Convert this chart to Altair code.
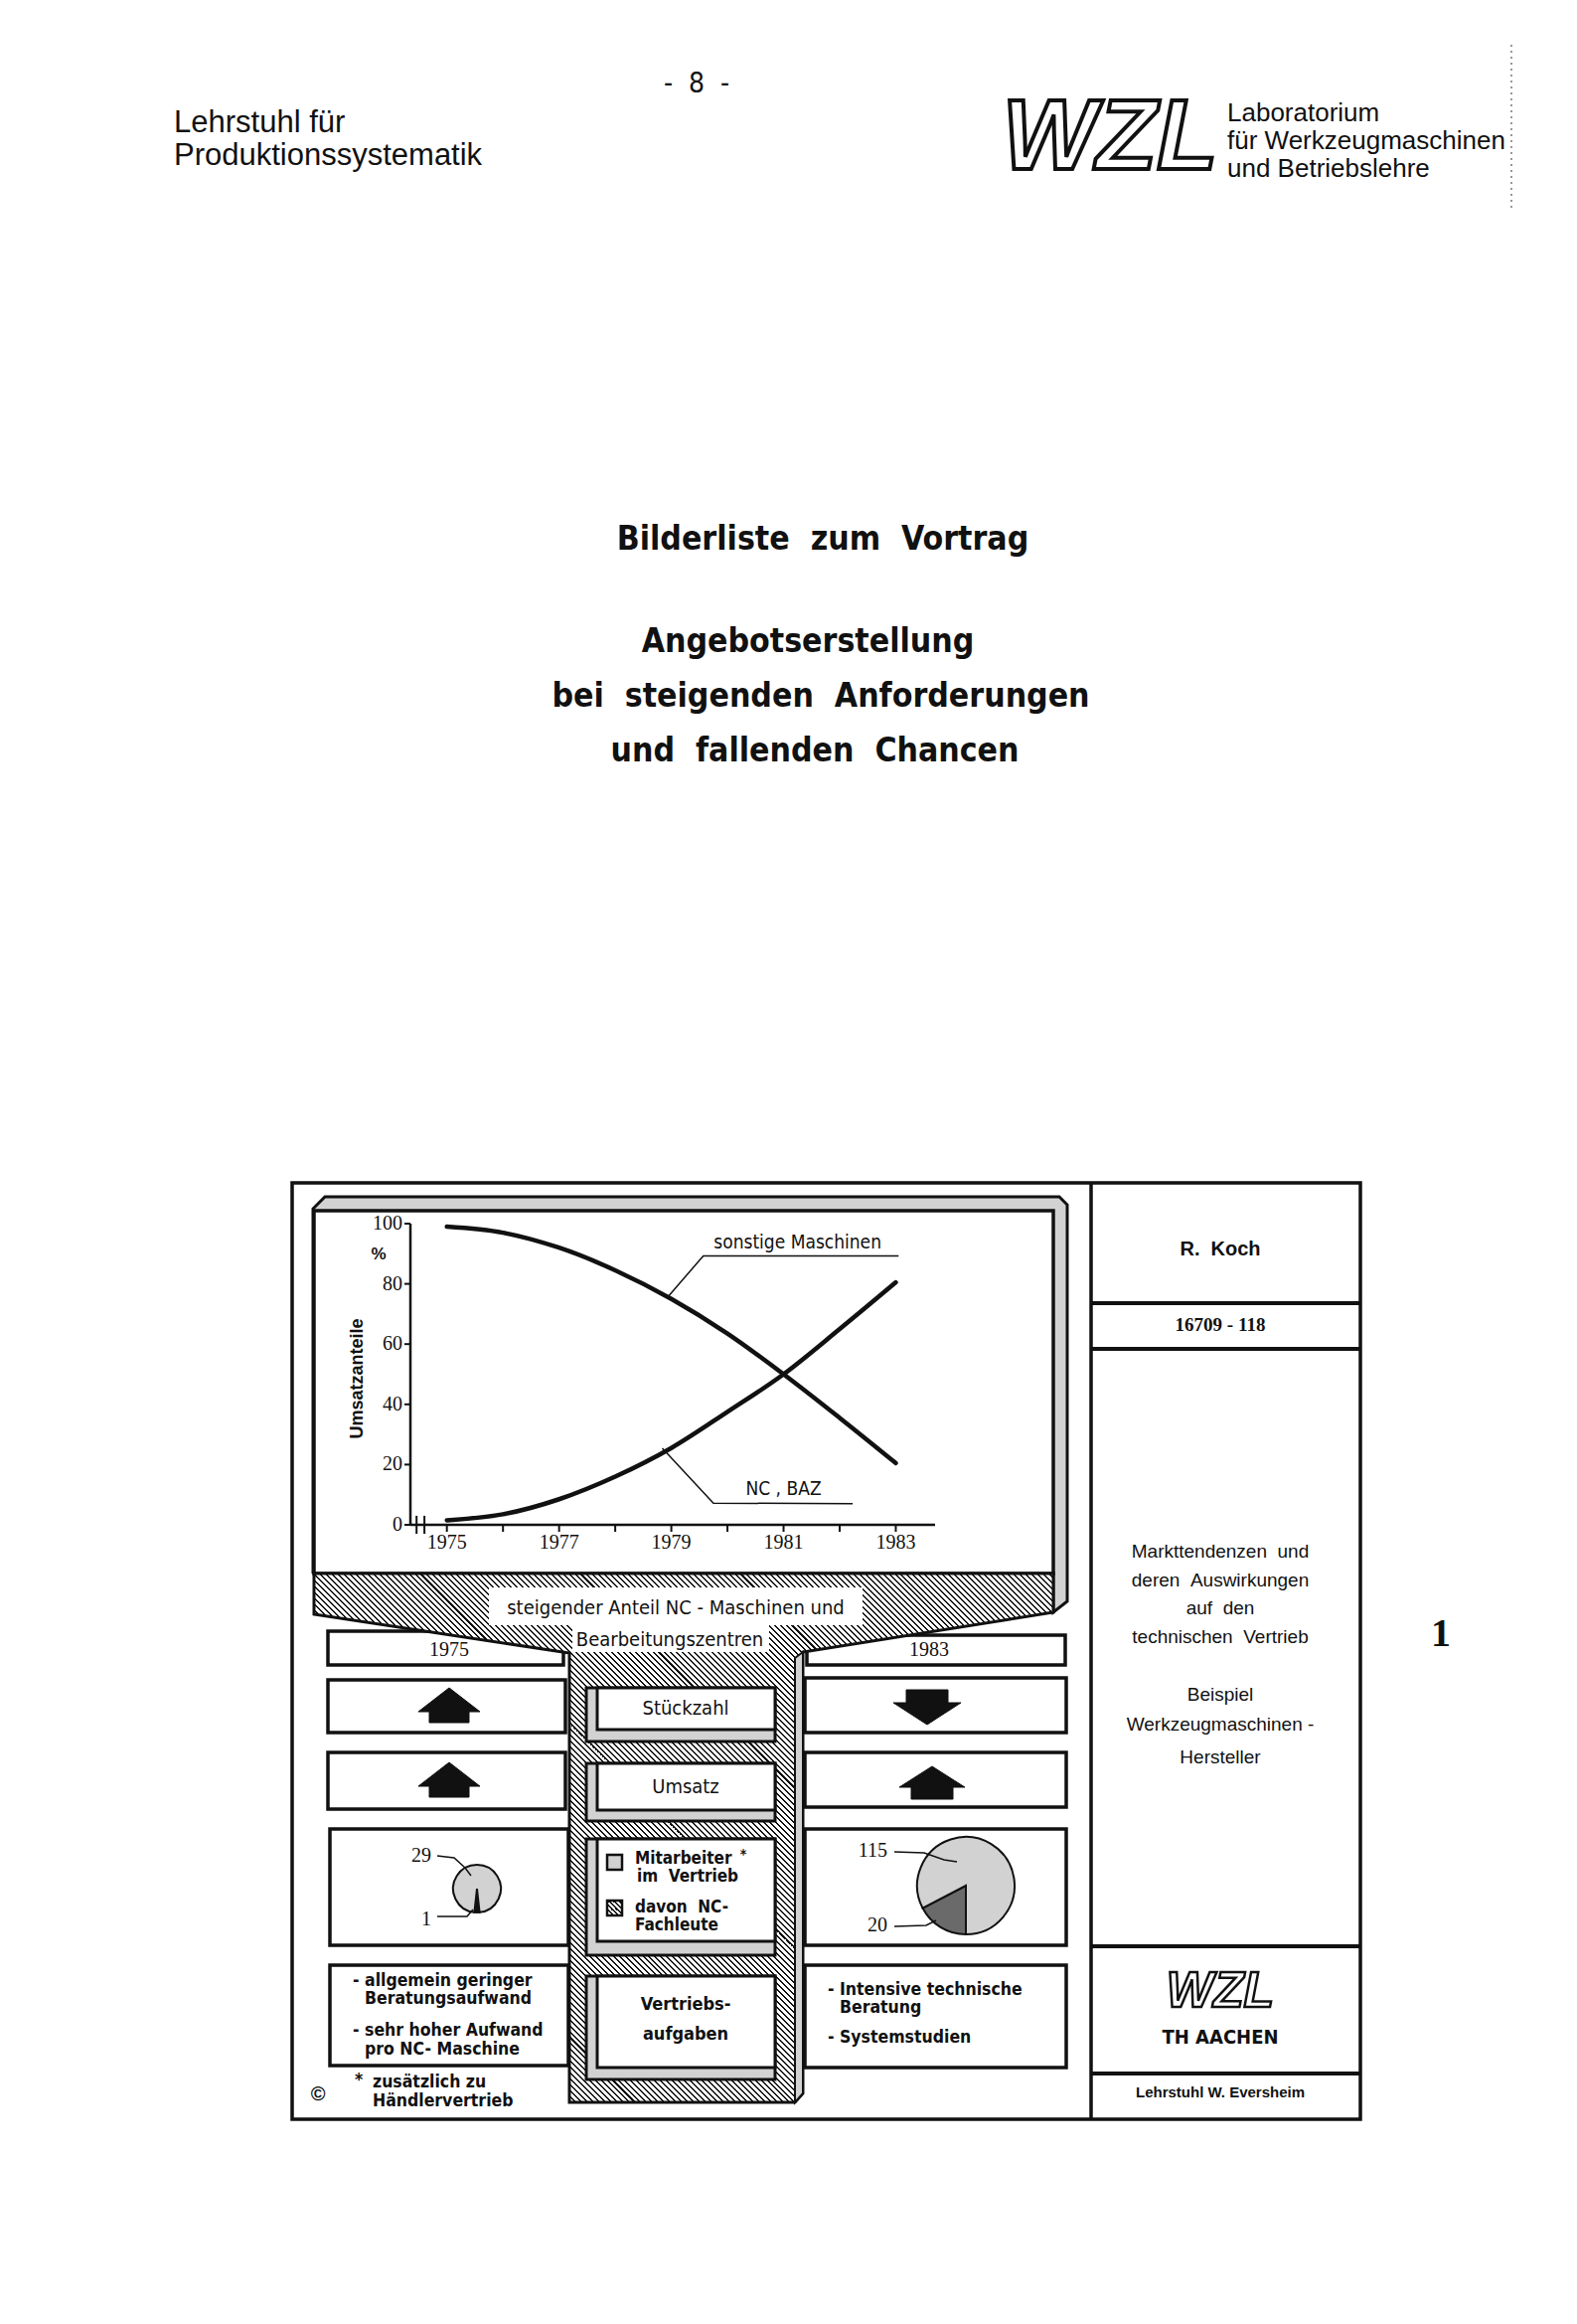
import math
import altair as alt
import pandas as pd

# ------------------------------------------------------------------ data
YEARS = [1975, 1976, 1977, 1978, 1979, 1980, 1981, 1982, 1983]
NC_BAZ = [1.5, 3.5, 8.5, 16, 25.5, 37.5, 50, 65, 80.5]
SONSTIGE = [99, 97, 92, 84.5, 75, 63.5, 50, 35.5, 20.5]
Y_TICKS = [0, 20, 40, 60, 80, 100]
X_TICKS = YEARS
X_LABELS = [1975, 1977, 1979, 1981, 1983]
SERIES_NAMES = ["NC , BAZ", "sonstige Maschinen"]
# leader lines of the two curve labels (year, percent)
SONST_LEADER_YEAR = [1978.93, 1979.57, 1983.05]
SONST_LEADER_PCT = [75.5, 89.3, 89.3]
NC_LEADER_YEAR = [1978.84, 1979.75, 1982.23]
NC_LEADER_PCT = [25.4, 7.2, 7.0]
SONST_LABEL_AT = (1981.25, 93.8)
NC_LABEL_AT = (1981.0, 11.8)

# pies: NC-Fachleute first, rest of the Vertrieb staff second
PIE_1975 = [1, 28]      # 29 Mitarbeiter, 1 NC-Fachmann
PIE_1983 = [20, 95]     # 115 Mitarbeiter, 20 NC-Fachleute
PIE_1975_LABELS = ["29", "1"]
PIE_1983_LABELS = ["115", "20"]

# ------------------------------------------------------------------ page geometry
W, H = 1571, 2318
OFF = 8
SANS = "Liberation Sans, Arial, sans-serif"
NARROW = "Liberation Sans Narrow, DejaVu Sans Condensed, Roboto Condensed, Liberation Sans, sans-serif"
SERIF = "Liberation Serif, DejaVu Serif, serif"
STIPPLE = "#d2d2d2"
INK = "#111111"
NB = "\u00a0"


def sp(s):
    """keep the wide double spaces of the typewritten original"""
    return s.replace("  ", NB + NB)


def sx():
    return alt.Scale(domain=[OFF, OFF + W], range=[0, W], nice=False, zero=False)


def sy():
    return alt.Scale(domain=[OFF, OFF + H], range=[0, H], nice=False, zero=False)


def X(f="x"):
    return alt.X(f + ":Q", scale=sx(), axis=None)


def Y(f="y"):
    return alt.Y(f + ":Q", scale=sy(), axis=None)


def hatch(w, h, period=4.2, duty=0.34, dark=INK, light="white"):
    r = h / w
    s = (1 + r) / (1 + r * r)
    L = (w + h) / math.sqrt(2)
    n = max(1, int(L / period))
    stops = []
    for i in range(n):
        a, b, c = i / n, (i + duty) / n, (i + 1) / n
        stops += [
            {"offset": a, "color": dark},
            {"offset": b, "color": dark},
            {"offset": b, "color": light},
            {"offset": c, "color": light},
        ]
    return {"gradient": "linear", "x1": 0, "y1": 1, "x2": s, "y2": 1 - s * r, "stops": stops}


def rects(rows, fill="white", stroke=INK, sw=3.0, opacity=1.0):
    df = pd.DataFrame(rows, columns=["x", "y", "x2", "y2"])
    kw = dict(fill=fill, strokeWidth=sw, fillOpacity=opacity)
    if sw > 0:
        kw["stroke"] = stroke
    return alt.Chart(df).mark_rect(**kw).encode(x=X(), x2="x2:Q", y=Y(), y2="y2:Q")


def rules(rows, sw=3.0, color=INK, dash=None):
    df = pd.DataFrame(rows, columns=["x", "y", "x2", "y2"])
    kw = dict(color=color, strokeWidth=sw)
    if dash:
        kw["strokeDash"] = dash
    return alt.Chart(df).mark_rule(**kw).encode(x=X(), x2="x2:Q", y=Y(), y2="y2:Q")


def polys(poly_list, fill, stroke=INK, sw=3.0, closed=True):
    rows = []
    for pid, pts in enumerate(poly_list):
        pts = list(pts) + ([pts[0]] if closed else [])
        for i, (x, y) in enumerate(pts):
            rows.append({"pid": pid, "i": i, "x": x, "y": y})
    kw = dict(stroke=stroke, strokeWidth=sw, strokeJoin="miter")
    if fill is not None:
        kw["fill"] = fill
    return alt.Chart(pd.DataFrame(rows)).mark_line(**kw).encode(
        x=X(), y=Y(), order="i:Q", detail="pid:N"
    )


def texts(rows, size, font=NARROW, weight="normal", align="center", style="normal",
          angle=None, fill=INK, stroke=None, sw=None):
    df = pd.DataFrame([(sp(t), x, y) for t, x, y in rows], columns=["t", "x", "y"])
    kw = dict(fontSize=size, font=font, fontWeight=weight, align=align, baseline="middle",
              fontStyle=style, fill=fill)
    if angle is not None:
        kw["angle"] = angle
    if stroke:
        kw["stroke"] = stroke
        kw["strokeWidth"] = sw
    return alt.Chart(df).mark_text(**kw).encode(x=X(), y=Y(), text="t:N")


def up_arrow(cx, top, head, bottom, hw=31, sw_=20):
    return [(cx, top), (cx + hw, head), (cx + sw_, head), (cx + sw_, bottom),
            (cx - sw_, bottom), (cx - sw_, head), (cx - hw, head)]


def down_arrow(cx, top, head, tip, hw=34, sw_=21):
    return [(cx - sw_, top), (cx + sw_, top), (cx + sw_, head), (cx + hw, head),
            (cx, tip), (cx - hw, head), (cx - sw_, head)]


layers = []

# ------------------------------------------------------------------ page header
layers.append(texts([("-  8  -", 701, 85)], 28, font=NARROW))
layers.append(texts([("Lehrstuhl für", 175, 124), ("Produktionssystematik", 175, 157)],
                    31, font=SANS, align="left"))
layers.append(texts([("Laboratorium", 1235, 114), ("für Werkzeugmaschinen", 1235, 142),
                     ("und Betriebslehre", 1235, 170)], 26, font=SANS, align="left"))
layers.append(texts([("WZL", 1117, 140)], 100, font=SANS, weight="bold", style="italic",
                    fill="white", stroke=INK, sw=4))
layers.append(rules([(1521, 45, 1521, 209)], sw=1.5, color="#777", dash=[2, 4]))

# ------------------------------------------------------------------ title
layers.append(texts([("Bilderliste  zum  Vortrag", 828, 543)], 33.5, weight="bold"))
layers.append(texts([("Angebotserstellung", 813, 646),
                     ("bei  steigenden  Anforderungen", 826, 701),
                     ("und  fallenden  Chancen", 820, 756)], 33.5, weight="bold"))

# ------------------------------------------------------------------ figure frame
layers.append(rects([(294, 1190, 1369, 2132)], fill="white", sw=3.5))
layers.append(rules([(1098, 1190, 1098, 2132)], sw=3.5))
layers.append(rules([(1098, 1311, 1369, 1311), (1098, 1357, 1369, 1357),
                     (1098, 1958, 1369, 1958), (1098, 2086, 1369, 2086)], sw=4))

# side boxes (left = 1975, right = 1983)
layers.append(rects([
    (330, 1641, 567, 1675), (330, 1690, 569, 1743), (330, 1763, 569, 1820),
    (332, 1840, 572, 1957), (332, 1977, 572, 2078),
    (812, 1645, 1072, 1675), (810, 1688, 1073, 1743), (810, 1763, 1073, 1818),
    (810, 1840, 1073, 1957), (810, 1977, 1073, 2080)], fill="white", sw=3.5))

layers.append(polys([up_arrow(452, 1698, 1722, 1733), up_arrow(452, 1773, 1797, 1808),
                     down_arrow(933, 1700, 1713, 1735), up_arrow(938, 1777, 1798, 1810, hw=33, sw_=21)],
                    fill=INK, sw=1))

# screen
layers.append(polys([[(315, 1583), (315, 1216), (327, 1204), (1066, 1204), (1074, 1212),
                      (1074, 1611), (1060, 1622), (1060, 1583)]], fill=STIPPLE, sw=3))
layers.append(rects([(316, 1218, 1060, 1583)], fill="white", sw=3.5))

# funnel + column (hatched)
FUNNEL = [(316, 1583), (1060, 1583), (1060, 1622), (808, 1662), (808, 2106), (800, 2115),
          (573, 2115), (573, 1663), (316, 1624)]
fx = [p[0] for p in FUNNEL]
fy = [p[1] for p in FUNNEL]
layers.append(polys([FUNNEL], fill=hatch(max(fx) - min(fx), max(fy) - min(fy)), sw=3))
layers.append(polys([[(800, 1668), (808, 1662), (808, 2106), (800, 2115)]], fill=STIPPLE, sw=2))
layers.append(rects([(492, 1597, 868, 1635), (576, 1633, 774, 1662)], fill="white", sw=0))

# column boxes with bevel
BOXES = [(1698, 1740, 1752), (1774, 1821, 1832), (1850, 1953, 1967), (1988, 2080, 2092)]
layers.append(rects([(590, t, 780, b) for t, _, b in BOXES], fill=STIPPLE, sw=3))
layers.append(rects([(601, t, 780, m) for t, m, _ in BOXES], fill="white", sw=3))

# legend squares
layers.append(rects([(611, 1866, 626, 1881)], fill=STIPPLE, sw=2.5))
layers.append(rects([(611, 1912, 626, 1927)], fill=hatch(15, 15, period=3.2, duty=0.45), sw=2.5))


# pies
def pie(values, cx, cy, r, start_deg, colors):
    df = pd.DataFrame({"v": values, "k": list(range(len(values))), "c": colors})
    a0 = math.radians(start_deg)
    return alt.Chart(df).mark_arc(radius=r, stroke=INK, strokeWidth=2).encode(
        theta=alt.Theta("v:Q", stack=True,
                        scale=alt.Scale(domain=[0, sum(values)], range=[a0, a0 + 2 * math.pi])),
        order=alt.Order("k:Q"),
        fill=alt.Fill("c:N", scale=None),
        x=alt.value(cx - OFF), y=alt.value(cy - OFF),
    )


layers.append(pie(PIE_1975, 480, 1900, 24, 173.8, [INK, STIPPLE]))
layers.append(pie(PIE_1983, 972, 1897, 49, 180, ["#6a6a6a", STIPPLE]))
layers.append(polys([[(440, 1867), (457, 1869), (468, 1879), (474, 1887)],
                     [(440, 1928), (470, 1928), (476, 1921)],
                     [(900, 1863), (930, 1864), (950, 1871), (963, 1873)],
                     [(900, 1938), (932, 1937), (942, 1932)]],
                    fill=None, sw=1.5, closed=False))
layers.append(texts([(PIE_1975_LABELS[0], 434, 1867), (PIE_1975_LABELS[1], 434, 1931),
                     (PIE_1983_LABELS[0], 893, 1862), (PIE_1983_LABELS[1], 893, 1937)],
                    20, font=SERIF, align="right"))

# figure texts
layers.append(texts([("steigender Anteil NC - Maschinen und", 680, 1618),
                     ("Bearbeitungszentren", 674, 1650),
                     ("Stückzahl", 690, 1719), ("Umsatz", 690, 1798)], 20))
layers.append(texts([("1975", 452, 1660), ("1983", 935, 1660)], 20, font=SERIF))
layers.append(texts([("Vertriebs-", 690, 2017), ("aufgaben", 690, 2047)], 18, weight="bold"))
layers.append(texts([("Mitarbeiter", 639, 1870), ("im  Vertrieb", 641, 1888),
                     ("davon  NC-", 639, 1919), ("Fachleute", 639, 1937)], 17, weight="bold",
                    align="left"))
layers.append(texts([("*", 748, 1866)], 14, weight="bold"))
layers.append(texts([("- allgemein geringer", 355, 1993), ("Beratungsaufwand", 367, 2011),
                     ("- sehr hoher Aufwand", 355, 2043), ("pro NC- Maschine", 367, 2062),
                     ("*", 357, 2093), ("zusätzlich zu", 375, 2095),
                     ("Händlervertrieb", 375, 2114),
                     ("- Intensive technische", 833, 2002), ("Beratung", 845, 2020),
                     ("- Systemstudien", 833, 2050)], 17.5, weight="bold", align="left"))
layers.append(texts([("©", 320, 2107)], 20, font=SANS, weight="bold"))

# right column
layers.append(texts([("R.  Koch", 1228, 1257)], 20, font=SANS, weight="bold"))
layers.append(texts([("16709 - 118", 1228, 1333)], 19, font=SERIF, weight="bold"))
layers.append(texts([("Markttendenzen  und", 1228, 1561), ("deren  Auswirkungen", 1228, 1590),
                     ("auf  den", 1228, 1618), ("technischen  Vertrieb", 1228, 1647),
                     ("Beispiel", 1228, 1705), ("Werkzeugmaschinen -", 1228, 1735),
                     ("Hersteller", 1228, 1768)], 19, font=SANS))
layers.append(texts([("WZL", 1228, 2004)], 50, font=SANS, weight="bold", style="italic",
                    fill="white", stroke=INK, sw=2.5))
layers.append(texts([("TH AACHEN", 1228, 2050)], 20, font=NARROW, weight="bold"))
layers.append(texts([("Lehrstuhl W. Eversheim", 1228, 2105)], 15, font=SANS, weight="bold"))
layers.append(texts([("1", 1450, 1644)], 40, font=SERIF, weight="bold"))

# ------------------------------------------------------------------ line chart
AX_X0, AX_X1 = 1974.35, 1983.7          # extent of the drawn x axis (years)
XS = alt.Scale(domain=[AX_X0, AX_X1], range=[413 - OFF, 941 - OFF], nice=False, zero=False)
YS = alt.Scale(domain=[0, 100], range=[1534 - OFF, 1231 - OFF], nice=False, zero=False)
PX_PER_YEAR = (941 - 413) / (AX_X1 - AX_X0)
PX_PER_PCT = (1534 - 1231) / 100.0


def XQ(f="year"):
    return alt.X(f + ":Q", scale=XS, axis=None)


def YQ(f="value"):
    return alt.Y(f + ":Q", scale=YS, axis=None)


curves = pd.DataFrame({
    "year": YEARS * 2,
    "value": NC_BAZ + SONSTIGE,
    "series": [SERIES_NAMES[0]] * len(YEARS) + [SERIES_NAMES[1]] * len(YEARS),
})
layers.append(alt.Chart(curves).mark_line(color=INK, strokeWidth=4.5, interpolate="monotone",
                                          strokeCap="round").encode(
    x=XQ(), y=YQ(), detail="series:N"))

# axes drawn through the same scales
axis_lines = pd.DataFrame({"year": [AX_X0, AX_X0], "year2": [AX_X0, AX_X1],
                           "value": [0, 0], "value2": [100, 0]})
layers.append(alt.Chart(axis_lines).mark_rule(color=INK, strokeWidth=2.5).encode(
    x=XQ(), x2="year2:Q", y=YQ(), y2="value2:Q"))

ytk = pd.DataFrame({"value": Y_TICKS, "year": [AX_X0] * len(Y_TICKS),
                    "year2": [AX_X0 - 6 / PX_PER_YEAR] * len(Y_TICKS)})
layers.append(alt.Chart(ytk).mark_rule(color=INK, strokeWidth=2).encode(
    x=XQ(), x2="year2:Q", y=YQ()))
layers.append(alt.Chart(ytk).mark_text(font=SERIF, fontSize=20, color=INK, align="right",
                                       baseline="middle", dx=-8).encode(
    x=XQ(), y=YQ(), text=alt.Text("value:Q", format="d")))

xtk = pd.DataFrame({"year": X_TICKS, "value": [0] * len(X_TICKS),
                    "value2": [-7 / PX_PER_PCT] * len(X_TICKS)})
layers.append(alt.Chart(xtk).mark_rule(color=INK, strokeWidth=2).encode(
    x=XQ(), y=YQ(), y2="value2:Q"))
xlb = pd.DataFrame({"year": X_LABELS, "value": [0] * len(X_LABELS)})
layers.append(alt.Chart(xlb).mark_text(font=SERIF, fontSize=20, color=INK, align="center",
                                       baseline="top", dy=8).encode(
    x=XQ(), y=YQ(), text=alt.Text("year:Q", format="d")))

brk = pd.DataFrame({"year": [1974.46, 1974.6], "value": [-3, -3], "value2": [3, 3]})
layers.append(alt.Chart(brk).mark_rule(color=INK, strokeWidth=2).encode(
    x=XQ(), y=YQ(), y2="value2:Q"))

leaders = pd.DataFrame({
    "year": SONST_LEADER_YEAR + NC_LEADER_YEAR,
    "value": SONST_LEADER_PCT + NC_LEADER_PCT,
    "k": [0, 1, 2, 0, 1, 2],
    "series": [SERIES_NAMES[1]] * 3 + [SERIES_NAMES[0]] * 3,
})
layers.append(alt.Chart(leaders).mark_line(color=INK, strokeWidth=1.5).encode(
    x=XQ(), y=YQ(), order="k:Q", detail="series:N"))

labels = pd.DataFrame({
    "year": [SONST_LABEL_AT[0], NC_LABEL_AT[0]],
    "value": [SONST_LABEL_AT[1], NC_LABEL_AT[1]],
    "t": [SERIES_NAMES[1], SERIES_NAMES[0]],
})
layers.append(alt.Chart(labels).mark_text(font=NARROW, fontSize=19, color=INK).encode(
    x=XQ(), y=YQ(), text="t:N"))

layers.append(texts([("%", 381, 1262)], 17, font=SANS, weight="bold"))
layers.append(texts([("Umsatzanteile", 360, 1387)], 18, font=SANS, weight="bold", angle=270))

chart = alt.layer(*layers).resolve_scale(
    x="independent", y="independent", theta="independent"
).properties(
    width=W, height=H, padding=0, autosize=alt.AutoSizeParams(type="none"),
    background="white",
).configure_view(stroke=None)

chart.save("out.html", embed_options={"renderer": "svg", "actions": False})
